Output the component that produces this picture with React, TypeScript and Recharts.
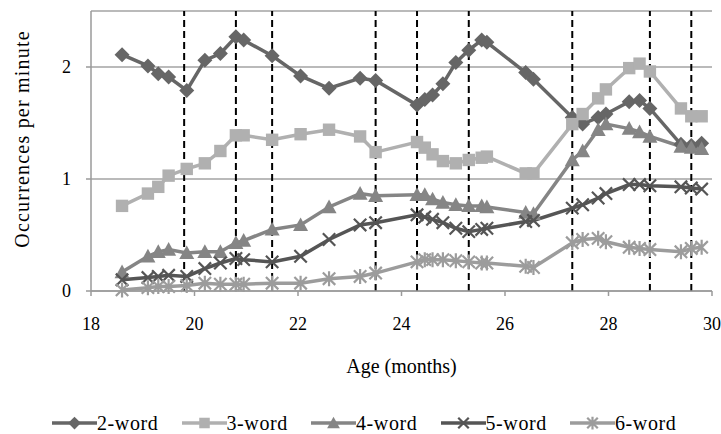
import React from 'react';
import { LineChart, Line, XAxis, YAxis, CartesianGrid, ReferenceLine, Legend } from 'recharts';

const ages = [18.6, 19.1, 19.3, 19.5, 19.85, 20.2, 20.5, 20.8, 20.95, 21.5, 22.05, 22.6, 23.2, 23.5, 24.3, 24.45, 24.6, 24.8, 25.05, 25.3, 25.55, 25.65, 26.4, 26.55, 27.3, 27.5, 27.8, 27.95, 28.4, 28.6, 28.8, 29.4, 29.6, 29.8];
const twoWord = [2.11, 2.01, 1.94, 1.91, 1.79, 2.06, 2.12, 2.27, 2.24, 2.10, 1.92, 1.81, 1.90, 1.88, 1.66, 1.71, 1.75, 1.85, 2.04, 2.15, 2.24, 2.22, 1.95, 1.89, 1.55, 1.49, 1.55, 1.58, 1.69, 1.70, 1.63, 1.31, 1.30, 1.32];
const threeWord = [0.76, 0.87, 0.93, 1.03, 1.09, 1.14, 1.25, 1.39, 1.39, 1.35, 1.40, 1.44, 1.38, 1.24, 1.33, 1.28, 1.22, 1.16, 1.14, 1.17, 1.19, 1.20, 1.05, 1.05, 1.49, 1.58, 1.72, 1.80, 1.99, 2.03, 1.96, 1.63, 1.56, 1.56];
const fourWord = [0.17, 0.31, 0.35, 0.37, 0.34, 0.35, 0.35, 0.43, 0.45, 0.55, 0.59, 0.75, 0.87, 0.85, 0.86, 0.86, 0.82, 0.79, 0.77, 0.76, 0.76, 0.75, 0.70, 0.69, 1.17, 1.25, 1.44, 1.49, 1.45, 1.42, 1.38, 1.29, 1.28, 1.27];
const fiveWord = [0.10, 0.12, 0.13, 0.14, 0.13, 0.20, 0.25, 0.29, 0.28, 0.26, 0.31, 0.46, 0.59, 0.61, 0.68, 0.66, 0.64, 0.61, 0.56, 0.53, 0.55, 0.56, 0.62, 0.63, 0.74, 0.77, 0.83, 0.87, 0.95, 0.95, 0.94, 0.93, 0.92, 0.91];
const sixWord = [0.01, 0.03, 0.04, 0.04, 0.05, 0.07, 0.06, 0.06, 0.06, 0.07, 0.07, 0.11, 0.13, 0.16, 0.26, 0.28, 0.28, 0.28, 0.27, 0.26, 0.25, 0.25, 0.22, 0.21, 0.43, 0.46, 0.47, 0.44, 0.39, 0.38, 0.37, 0.35, 0.38, 0.39];

const seriesNames = ['2-word', '3-word', '4-word', '5-word', '6-word'];
const xTicks = [18, 20, 22, 24, 26, 28, 30];
const yTicks = [0, 1, 2];
const boundaries = [19.8, 20.8, 21.5, 23.5, 24.3, 25.3, 27.3, 28.8, 29.6];

const seriesValues = [twoWord, threeWord, fourWord, fiveWord, sixWord];
const seriesKeys = ['w2', 'w3', 'w4', 'w5', 'w6'];
const seriesColors = ['#666666', '#b0b0b0', '#858585', '#555555', '#9c9c9c'];
const seriesShapes = ['diamond', 'square', 'triangle', 'x', 'star'];

const data = ages.map((age, i) => {
  const row: any = { age };
  seriesKeys.forEach((k, s) => { row[k] = seriesValues[s][i]; });
  return row;
});

const FONT = 'Liberation Serif, DejaVu Serif, serif';

function marker(kind: string, cx: number, cy: number, color: string, key?: any, scale = 1) {
  if (cx == null || cy == null) return <g key={key} />;
  const r = 7.5 * scale;
  const h = 6.2 * scale;
  switch (kind) {
    case 'diamond':
      return <path key={key} d={`M${cx},${cy - r}L${cx + r},${cy}L${cx},${cy + r}L${cx - r},${cy}Z`} fill={color} />;
    case 'square':
      return <rect key={key} x={cx - h} y={cy - h} width={2 * h} height={2 * h} fill={color} />;
    case 'triangle':
      return <path key={key} d={`M${cx},${cy - r}L${cx + r},${cy + h}L${cx - r},${cy + h}Z`} fill={color} />;
    case 'x':
      return (
        <path key={key} d={`M${cx - h},${cy - h}L${cx + h},${cy + h}M${cx + h},${cy - h}L${cx - h},${cy + h}`} stroke={color} strokeWidth={2.2} fill="none" />
      );
    default:
      return (
        <path key={key} d={`M${cx - h},${cy - h}L${cx + h},${cy + h}M${cx + h},${cy - h}L${cx - h},${cy + h}M${cx},${cy - r}L${cx},${cy + r}`} stroke={color} strokeWidth={2.2} fill="none" />
      );
  }
}

const renderLegend = () => (
  <div style={{ position: 'absolute', left: 0, top: 0, width: 721, height: 0 }}>
    {seriesNames.map((name, i) => (
      <div
        key={name}
        style={{
          position: 'absolute',
          left: 52 + 129.5 * i,
          top: 411,
          height: 24,
          display: 'flex',
          alignItems: 'center',
          whiteSpace: 'nowrap',
          fontFamily: FONT,
          fontSize: 20,
          letterSpacing: 0.6,
          color: '#000',
        }}
      >
        <svg width={45} height={24} style={{ display: 'block' }}>
          <line x1={0} y1={12} x2={45} y2={12} stroke={seriesColors[i]} strokeWidth={3.5} />
          {marker(seriesShapes[i], 22.5, 12, seriesColors[i], undefined, 0.85)}
        </svg>
        <span style={{ lineHeight: '24px' }}>{name}</span>
      </div>
    ))}
  </div>
);

export default function App() {
  return (
    <div style={{ position: 'absolute', left: 0, top: 0, width: 721, height: 434, background: '#fff' }}>
      <LineChart width={721} height={434} data={data} margin={{ top: 11, right: 9, left: 0, bottom: 0 }}>
        <CartesianGrid vertical={false} stroke="#a3a3a3" strokeWidth={1.5} />
        <XAxis
          dataKey="age"
          type="number"
          domain={[18, 30]}
          ticks={xTicks}
          interval={0}
          height={143}
          axisLine={{ stroke: '#9a9a9a', strokeWidth: 1.5 }}
          tickLine={{ stroke: '#9a9a9a', strokeWidth: 1.5 }}
          tickSize={5}
          tickMargin={21}
          tick={{ fill: '#000', fontSize: 18, fontFamily: FONT }}
          label={(props: any) => {
            const vb = props.viewBox || {};
            return (
              <text x={vb.x + vb.width / 2} y={366} textAnchor="middle" dominantBaseline="central" fontFamily={FONT} fontSize={20} fill="#000">
                Age (months)
              </text>
            );
          }}
        />
        <YAxis
          type="number"
          domain={[0, 2.5]}
          ticks={yTicks}
          interval={0}
          width={91}
          axisLine={{ stroke: '#9a9a9a', strokeWidth: 1.5 }}
          tickLine={{ stroke: '#9a9a9a', strokeWidth: 1.5 }}
          tickSize={5}
          tickMargin={15}
          tick={{ fill: '#000', fontSize: 18, fontFamily: FONT }}
          label={() => (
            <text x={22} y={139} transform="rotate(-90 22 139)" textAnchor="middle" dominantBaseline="central" fontFamily={FONT} fontSize={20} letterSpacing={1.2} fill="#000">
              Occurrences per minute
            </text>
          )}
        />
        {boundaries.map((b) => (
          <ReferenceLine key={b} x={b} stroke="#000" strokeWidth={2} strokeDasharray="7 4" ifOverflow="extendDomain" />
        ))}
        {seriesKeys.map((k, s) => (
          <Line
            key={k}
            dataKey={k}
            name={seriesNames[s]}
            type="linear"
            stroke={seriesColors[s]}
            strokeWidth={3.5}
            isAnimationActive={false}
            dot={(p: any) => marker(seriesShapes[s], p.cx, p.cy, seriesColors[s], `${k}-${p.index}`)}
            activeDot={false}
          />
        ))}
        <Legend content={renderLegend} wrapperStyle={{ position: 'absolute', left: 0, top: 0, width: 721, height: 0 }} />
      </LineChart>
    </div>
  );
}
